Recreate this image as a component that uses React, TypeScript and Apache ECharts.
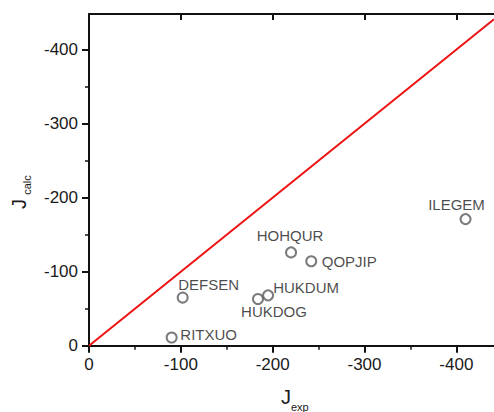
import React, { useEffect, useRef } from "react";
import * as echarts from "echarts";

const names = ["RITXUO", "DEFSEN", "HUKDOG", "HUKDUM", "HOHQUR", "QOPJIP", "ILEGEM"];
const jExp = [-90, -102, -184, -195, -220, -242, -410];
const jCalc = [-11, -65, -63, -68, -126, -114, -171];
const majorTicks = [0, -100, -200, -300, -400];
const minorTicks = [-50, -150, -250, -350];
const xMin = -441;
const yMin = -448;
const labelOffsets: number[][] = [
  [37, -3],
  [26, -13],
  [16, 12],
  [38, -8],
  [-1, -17],
  [38, 0],
  [-9, -15],
];

const FONT = "Liberation Sans, Arial, Helvetica, sans-serif";
const INK = "#1a1a1a";

export default function App() {
  const ref = useRef<HTMLDivElement>(null);
  useEffect(() => {
    if (!ref.current) return;
    const chart = echarts.init(ref.current, undefined, { renderer: "svg" });
    const fmt = (v: number) => (majorTicks.includes(v) ? String(v) : "");
    const line = { show: true, onZero: false, lineStyle: { color: "#111", width: 2 } };
    const noSplit = { show: false };
    const mainAxis = (min: number, margin: number) => ({
      type: "value",
      min,
      max: 0,
      inverse: true,
      axisLine: line,
      axisTick: {
        show: true,
        inside: false,
        length: 7,
        customValues: majorTicks,
        lineStyle: { color: "#111", width: 2 },
      },
      axisLabel: {
        margin,
        fontSize: 17,
        fontFamily: FONT,
        color: INK,
        customValues: majorTicks,
        formatter: fmt,
      },
      splitLine: noSplit,
    });
    const minorAxis = (min: number, position: string) => ({
      type: "value",
      position,
      min,
      max: 0,
      inverse: true,
      axisLine: { show: false, onZero: false },
      axisTick: {
        show: true,
        inside: false,
        length: 4,
        customValues: minorTicks,
        lineStyle: { color: "#111", width: 1.5 },
      },
      axisLabel: { show: false },
      splitLine: noSplit,
    });
    chart.setOption({
      animation: false,
      backgroundColor: "#fff",
      grid: { left: 89, top: 14, right: 0, bottom: 66.3, containLabel: false },
      xAxis: [
        { ...mainAxis(xMin, 10), position: "bottom" },
        minorAxis(xMin, "bottom"),
        {
          type: "value",
          position: "top",
          min: xMin,
          max: 0,
          inverse: true,
          axisLine: line,
          axisTick: {
            show: true,
            inside: true,
            length: 6,
            customValues: majorTicks,
            lineStyle: { color: "#111", width: 2 },
          },
          axisLabel: { show: false },
          splitLine: noSplit,
        },
      ],
      yAxis: [{ ...mainAxis(yMin, 11), position: "left" }, minorAxis(yMin, "left")],
      graphic: [
        {
          type: "text",
          x: 19,
          y: 204,
          rotation: Math.PI / 2,
          style: { text: "J", fontSize: 20, fontFamily: FONT, fill: INK, align: "center", verticalAlign: "middle" },
        },
        {
          type: "text",
          x: 27,
          y: 185,
          rotation: Math.PI / 2,
          style: { text: "calc", fontSize: 11, fontFamily: FONT, fill: INK, align: "center", verticalAlign: "middle" },
        },
        {
          type: "text",
          x: 286,
          y: 396.5,
          style: { text: "J", fontSize: 20, fontFamily: FONT, fill: INK, align: "center", verticalAlign: "middle" },
        },
        {
          type: "text",
          x: 291,
          y: 407,
          style: { text: "exp", fontSize: 11, fontFamily: FONT, fill: INK, align: "left", verticalAlign: "middle" },
        },
      ],
      series: [
        {
          type: "line",
          xAxisIndex: 0,
          yAxisIndex: 0,
          data: [
            [0, 0],
            [xMin, xMin],
          ],
          symbol: "none",
          lineStyle: { color: "#ee1111", width: 2 },
          z: 2,
        },
        {
          type: "scatter",
          xAxisIndex: 0,
          yAxisIndex: 0,
          symbol: "emptyCircle",
          symbolSize: 10,
          itemStyle: { color: "#5a5a5a", borderWidth: 1 },
          data: names.map((n, i) => ({
            value: [jExp[i], jCalc[i]],
            name: n,
            label: {
              show: true,
              position: "inside",
              offset: labelOffsets[i],
              formatter: n,
              fontSize: 15,
              fontFamily: FONT,
              color: INK,
            },
          })),
          z: 3,
        },
      ],
    });
    return () => chart.dispose();
  }, []);
  return <div ref={ref} style={{ width: 494, height: 412, position: "absolute", left: 0, top: 0 }} />;
}
